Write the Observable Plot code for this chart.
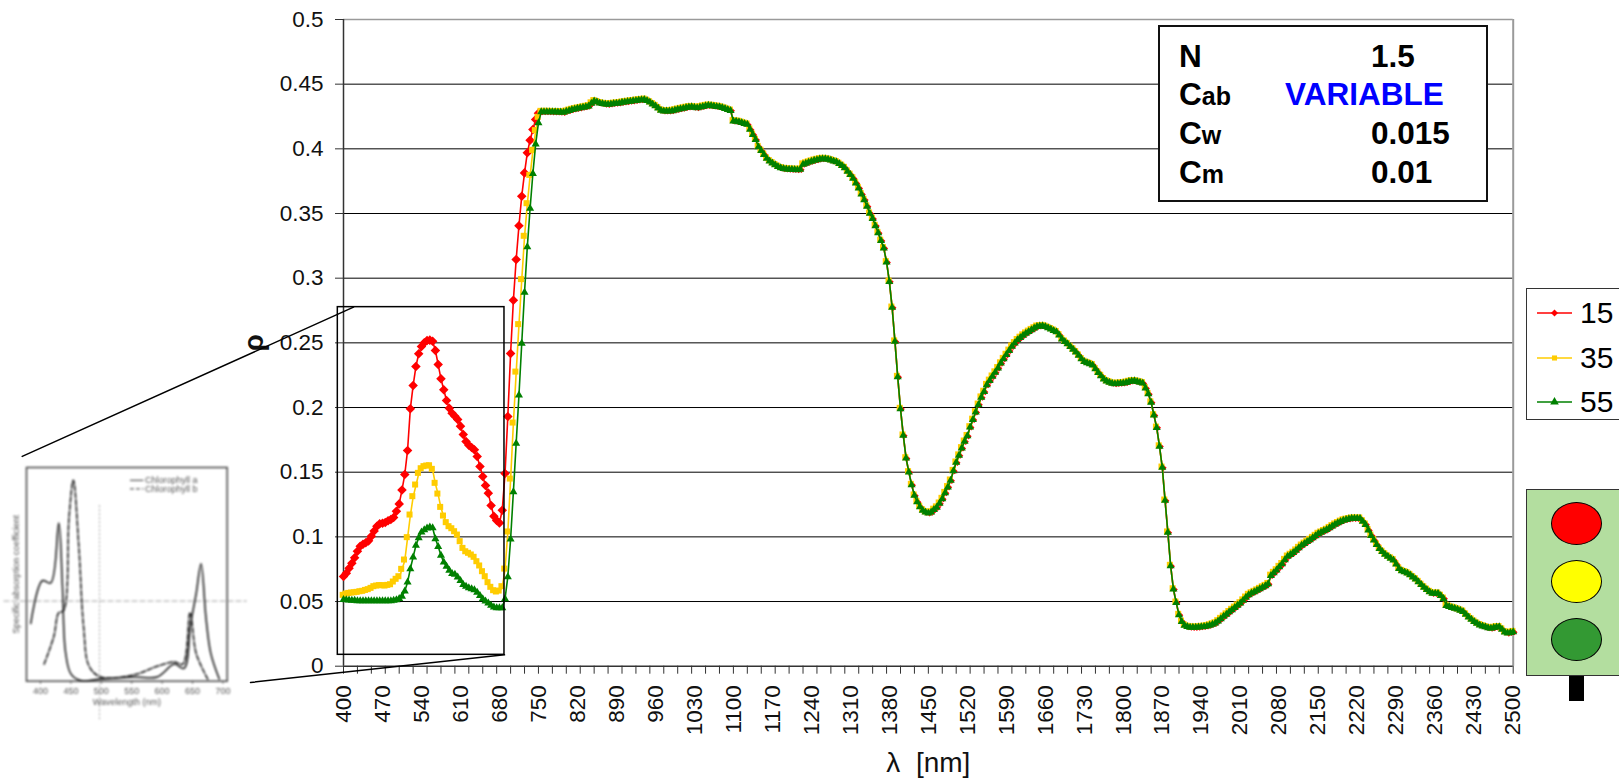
<!DOCTYPE html>
<html><head><meta charset="utf-8">
<script src="https://cdn.jsdelivr.net/npm/d3@7"></script>
<script src="https://cdn.jsdelivr.net/npm/@observablehq/plot@0.6"></script>
<style>
html,body{margin:0;padding:0;background:#fff}
#page{position:relative;width:1619px;height:778px;overflow:hidden;font-family:"Liberation Sans",Arial,sans-serif}
#page>svg,#main svg,#inset svg{display:block;max-width:none;background:transparent}
#main,#inset{position:absolute;left:0}
#main{top:0}
#inset{top:450px;filter:blur(.9px)}
.params{position:absolute;left:1158px;top:25px;width:326px;height:173px;border:2px solid #111;background:#fff;font-weight:bold;font-size:31.5px;color:#000}
.params span{position:absolute;line-height:36px;white-space:nowrap}
.params small{font-size:25px}
.legend{position:absolute;left:1526px;top:288px;width:120px;height:132px;border:1.5px solid #333;background:#fff;box-sizing:border-box}
.legend svg{position:absolute;left:10px;overflow:visible}
.legend span{position:absolute;left:53px;font-size:30px;line-height:34px;color:#000}
.light{position:absolute;left:1526px;top:489px;width:120px;height:187px;background:#b3de9f;border:1.5px solid #333;box-sizing:border-box}
.lamp{position:absolute;left:1550.5px;width:49px;height:41px;border-radius:50%;border:1.5px solid #000}
.stem{position:absolute;left:1569px;top:676px;width:15px;height:25px;background:#000}
</style></head>
<body><div id="page"><div id="main"></div><div id="inset"></div></div>
<script>
// shared wavelength axis (5 nm sampling, 400-2500)
const wavelengths = d3.range(400, 2505, 5);
const xLabelTicks = d3.range(400, 2570, 70).filter(d => d <= 2500);
const xMinorTicks = d3.range(400, 2525, 25);
const yTicks = [0,0.05,0.1,0.15,0.2,0.25,0.3,0.35,0.4,0.45,0.5];
const yTickLabels = ["0","0.05","0.1","0.15","0.2","0.25","0.3","0.35","0.4","0.45","0.5"];

// Cab = 15 : 400-750 nm
const cab15 = [.0693,.0719,.0758,.0796,.0838,.0889,.0928,.0943,.0954,.0969,.1005,.1046,.1082,.1101,.1106,.1111,.1124,.1134,.1149,.1198,.1255,.1363,.1482,.1668,.199,.217,.2317,.2415,.2472,.25,.2518,.2521,.2513,.2441,.2332,.2222,.2137,.2054,.1995,.1956,.1933,.1907,.1856,.1791,.1737,.1709,.1691,.1673,.1621,.1544,.1466,.1397,.1338,.1242,.116,.1126,.1108,.1206,.149,.193,.2418,.283,.3144,.3405,.3634,.3814,.3969,.4067,.4149,.4227,.4275];
// Cab = 35 : 400-750 nm
const cab35 = [.0544,.0554,.0559,.0562,.0564,.0567,.0572,.0575,.0582,.0588,.0598,.0611,.0616,.0619,.0619,.0616,.0621,.0626,.0647,.0668,.0688,.0745,.0817,.099,.1165,.1307,.1397,.1487,.1523,.1539,.1544,.1546,.1518,.141,.1327,.1224,.1157,.1106,.1075,.1059,.1036,.101,.0959,.0907,.0881,.0869,.0856,.0838,.0804,.0771,.0727,.0688,.0642,.0606,.058,.057,.0577,.0611,.0747,.1034,.1443,.1876,.227,.2637,.2985,.332,.3572,.3791,.3984,.4137,.424];
// Cab = 55 : 400-750 nm
const cab55 = [.0515,.0512,.051,.0508,.0508,.0505,.0505,.0505,.0505,.0505,.0505,.0505,.0505,.0505,.0505,.0505,.0505,.0505,.0508,.0513,.0523,.0539,.058,.0649,.0753,.0843,.0933,.0992,.1036,.1054,.1067,.1075,.107,.0985,.0925,.0856,.0804,.0771,.074,.0716,.0709,.0688,.0662,.0631,.0616,.0606,.0598,.059,.057,.0546,.0521,.0503,.0487,.0469,.0456,.0451,.0451,.0451,.0521,.069,.0982,.1348,.1722,.2095,.2495,.2889,.3242,.3539,.3809,.4036,.4201];
// all three series coincide from 755 nm to 2500 nm
const common = [.4286,.4286,.4286,.4286,.4285,.4285,.4284,.4283,.4281,.4289,
.4296,.4302,.4307,.4312,.4316,.4321,.4325,.433,.4352,.4369,
.4362,.4354,.4349,.4345,.4343,.4346,.4349,.4351,.4354,.4358,
.4361,.4364,.4367,.437,.4373,.4376,.4378,.4381,.4372,.436,
.4346,.4332,.4315,.4297,.4291,.4291,.4291,.4294,.4299,.4304,
.4309,.4313,.4318,.4322,.4324,.432,.4317,.4322,.4327,.4332,
.4335,.4333,.433,.4327,.4324,.4318,.4311,.4303,.4296,.4214,
.4212,.4209,.4202,.4195,.4188,.415,.411,.407,.4015,.3985,
.3955,.3925,.3905,.389,.3875,.3862,.3852,.3846,.3843,.3841,
.384,.3839,.3838,.384,.388,.3888,.3896,.3903,.391,.3915,
.392,.3923,.3922,.3918,.3912,.3905,.3898,.3885,.387,.3853,
.3825,.38,.3772,.3735,.3696,.365,.3606,.3555,.35,.346,
.3405,.335,.329,.3232,.3124,.2974,.2773,.2511,.2237,.199,
.1784,.1608,.15,.1402,.132,.127,.1232,.1205,.119,.1183,
.119,.121,.1228,.1258,.1294,.134,.1385,.1436,.151,.1575,
.163,.1686,.1737,.178,.1848,.1906,.1964,.2023,.2078,.2122,
.2175,.2208,.224,.2272,.2305,.2342,.2376,.2408,.244,.2472,
.2498,.2522,.254,.2558,.2573,.2587,.26,.2613,.2626,.2629,
.2631,.2625,.2616,.2606,.2595,.2584,.256,.2528,.251,.2492,
.247,.245,.2428,.2402,.2375,.2354,.2345,.2337,.2328,.2298,
.227,.2245,.222,.2203,.2195,.2186,.2183,.2185,.2187,.2188,
.2193,.2199,.2204,.2205,.22,.2195,.2188,.215,.2105,.204,
.194,.1845,.17,.1536,.1281,.1034,.0776,.0595,.0492,.0397,
.0345,.0315,.0305,.03,.0299,.0299,.0301,.0304,.0306,.031,
.0316,.0324,.0332,.0348,.0366,.0384,.0401,.0419,.0436,.0453,
.047,.0487,.0509,.0531,.0552,.0564,.0575,.0586,.0598,.061,
.0621,.0636,.07,.0722,.0742,.0768,.079,.0822,.0848,.0862,
.0877,.0895,.0915,.0933,.0948,.0963,.0977,.0992,.1008,.1024,
.1034,.1045,.1055,.1069,.1083,.1096,.1107,.1118,.1128,.1133,
.1138,.1142,.1142,.1142,.1142,.112,.1095,.1052,.101,.0975,
.094,.0908,.0885,.0865,.0848,.0834,.082,.0788,.0755,.0737,
.0728,.0719,.0706,.0688,.0672,.0652,.063,.061,.0592,.0575,
.0562,.0562,.0562,.0545,.0523,.0468,.046,.0453,.0447,.044,
.0431,.0422,.04,.038,.0362,.0345,.033,.0318,.031,.0303,
.0296,.0292,.0297,.0302,.0303,.0285,.0263,.0255,.026,.0265];

// inset: chlorophyll specific absorption
const chlANm = [384,403,417,430,436,441,450,466,499,554,592,620,636,647,656,664,672,680,694];
const chlAVal = [27,47,46,74,45,14,3.4,.3,1,2,2,8,6,27,41,55,30,13,1];
const chlBNm = [406,422,430,438,447,454,463,471,480,499,554,592,620,634,646,656,675];
const chlBVal = [8,21,32,33,77,94,63,25,7,2,3,7,9,8,32,13,1];
const insetTicks = [400,450,500,550,600,650,700];

// zoom call-out, in chart units
const boxX = [389.8, 689], boxY = [.0088, .2776];
const calloutTop = [[-176.8,.1622],[418,.2776]];
const calloutBottom = [[233,-.0126],[689,.0088]];

const table = (vals, name) => vals.concat(common).map((v,i) => ({nm: wavelengths[i], v, name}));
const sRed = table(cab15,"15"), sGold = table(cab35,"35"), sGreen = table(cab55,"55");
const xA = {x:"nm", y:"v"};

const chart = Plot.plot({
  width:1619, height:778,
  marginLeft:343, marginRight:106.3, marginTop:19, marginBottom:112.3,
  style:{fontFamily:"'Liberation Sans',Arial,sans-serif", fontSize:"22.5px", color:"#111", background:"transparent", overflow:"visible"},
  x:{domain:[400,2500], label:null, axis:null},
  y:{domain:[0,.5], label:null, axis:null},
  marks:[
    Plot.ruleY(yTicks.slice(1,-1), {stroke:"#000", strokeWidth:1}),
    Plot.ruleY([.5], {stroke:"#9a9a9a", strokeWidth:1.5}),
    Plot.ruleX([2500], {stroke:"#9a9a9a", strokeWidth:2}),
    Plot.ruleX([400], {stroke:"#333", strokeWidth:1.5}),
    Plot.ruleY([0], {stroke:"#333", strokeWidth:1.5}),
    Plot.axisY(yTicks, {anchor:"left", tickSize:8, tickPadding:12, label:null, stroke:"#333",
      tickFormat:d=>yTickLabels[yTicks.indexOf(d)]}),
    Plot.axisX(xMinorTicks, {anchor:"bottom", tickSize:8, tickFormat:()=>"", label:null, stroke:"#333"}),
    Plot.axisX(xLabelTicks, {anchor:"bottom", tickSize:0, tickPadding:19, tickRotate:-90, label:null, tickFormat:d=>String(d)}),
    Plot.axisX({anchor:"bottom", ticks:[], label:"λ\u00a0\u00a0[nm]", labelAnchor:"center", labelArrow:"none", labelOffset:106, fontSize:28}),
    Plot.axisY({anchor:"left", ticks:[], label:"ρ", labelAnchor:"center", labelArrow:"none", labelOffset:100, fontSize:28, fontWeight:"bold"}),
    Plot.line(sRed, {...xA, stroke:"#ff0000", strokeWidth:1.6, curve:"linear"}),
    Plot.dot(sRed.filter(d=>d.nm<=750), {...xA, symbol:"diamond2", r:4.3, fill:"#ff0000", stroke:"none"}),
    Plot.dot(sRed.filter(d=>d.nm>750), {...xA, symbol:"diamond2", r:2.8, fill:"#ff0000", stroke:"none", dx:1.2, dy:.3}),
    Plot.line(sGold, {...xA, stroke:"#ffcc00", strokeWidth:1.6}),
    Plot.dot(sGold, {...xA, symbol:"square", r:3.4, fill:"#ffcc00", stroke:"none", dx:-.8, dy:-1}),
    Plot.line(sGreen, {...xA, stroke:"#008000", strokeWidth:1.6}),
    Plot.dot(sGreen, {...xA, symbol:"triangle", r:3, fill:"#008000", stroke:"none"}),
    Plot.rect([{x1:boxX[0],x2:boxX[1],y1:boxY[0],y2:boxY[1]}], {x1:"x1",x2:"x2",y1:"y1",y2:"y2", fill:"none", stroke:"#000", strokeWidth:1.5}),
    Plot.line(calloutTop, {stroke:"#000", strokeWidth:1.5}),
    Plot.line(calloutBottom, {stroke:"#000", strokeWidth:1.5})
  ]
});
document.getElementById("main").append(chart);

// inset picture
const inset = Plot.plot({
  width:260, height:270,
  marginLeft:26, marginRight:33.3, marginTop:17, marginBottom:39.3,
  style:{fontFamily:"'Liberation Sans',Arial,sans-serif", fontSize:"9px", color:"#555", background:"transparent", overflow:"visible"},
  x:{domain:[377,707], axis:null},
  y:{domain:[0,100], axis:null},
  marks:[
    Plot.frame({stroke:"#333", strokeWidth:1.4}),
    Plot.ruleY([37.5], {x1:340, x2:740, stroke:"#999", strokeWidth:.9, strokeDasharray:"6 2"}),
    Plot.ruleX([497], {y1:-18, y2:83, stroke:"#999", strokeWidth:.9, strokeDasharray:"2 2"}),
    Plot.axisX(insetTicks, {anchor:"bottom", tickSize:3, tickPadding:3, label:null}),
    Plot.axisX({anchor:"bottom", ticks:[], label:"Wavelength (nm)", labelAnchor:"center", labelArrow:"none", labelOffset:24}),
    Plot.axisY({anchor:"left", ticks:[], label:"Specific absorption coefficient", labelAnchor:"center", labelArrow:"none", labelOffset:14}),
    Plot.line(chlANm.map((n,i)=>[n,chlAVal[i]]), {stroke:"#111", strokeWidth:1.5, curve:"catmull-rom"}),
    Plot.line(chlBNm.map((n,i)=>[n,chlBVal[i]]), {stroke:"#111", strokeWidth:1.5, strokeDasharray:"5 2", curve:"catmull-rom"}),
    Plot.text(["Chlorophyll a"], {x:[572], y:[94], textAnchor:"start", fill:"#555"}),
    Plot.text(["Chlorophyll b"], {x:[572], y:[90], textAnchor:"start", fill:"#555"}),
    Plot.ruleY([94], {x1:548, x2:570, stroke:"#333", strokeWidth:1}),
    Plot.ruleY([90], {x1:548, x2:570, stroke:"#333", strokeWidth:1, strokeDasharray:"4 2"})
  ]
});
document.getElementById("inset").append(inset);

// parameter box, legend, traffic light
const page = document.getElementById("page");
const paramRows = [
  ["N","","1.5",212,"#000"],
  ["C","ab","VARIABLE",126,"#0000ff"],
  ["C","w","0.015",212,"#000"],
  ["C","m","0.01",212,"#000"]
];
const params = document.createElement("div");
params.className = "params";
params.innerHTML = paramRows.map((r,i)=>{
  const top = 10.5 + i*38.7;
  return `<span style="left:19px;top:${top}px">${r[0]}<small>${r[1]}</small></span>`+
         `<span style="left:${r[3]-1}px;top:${top}px;color:${r[4]}">${r[2]}</span>`;
}).join("");
page.append(params);

const legendRows = [["15","#ff0000",d3.symbolDiamond2,32],["35","#ffcc00",d3.symbolSquare,26],["55","#008000",d3.symbolTriangle,32]];
const legend = document.createElement("div");
legend.className = "legend";
legend.innerHTML = legendRows.map((r,i)=>{
  const cy = 24 + i*44.5;
  return `<svg width="35" height="12" style="top:${cy-6}px"><line x1="0" x2="35" y1="6" y2="6" stroke="${r[1]}" stroke-width="1.5"/><path transform="translate(17.5,6)" d="${d3.symbol(r[2],r[3])()}" fill="${r[1]}"/></svg>`+
         `<span style="top:${cy-17}px">${r[0]}</span>`;
}).join("");
page.append(legend);

const lampColors = ["#ff0000","#ffff00","#339933"], lampTops = [501.5,560,618];
const light = document.createElement("div"); light.className="light"; page.append(light);
const stem = document.createElement("div"); stem.className="stem"; page.append(stem);
lampColors.forEach((c,i)=>{
  const l = document.createElement("div");
  l.className="lamp"; l.style.background=c; l.style.top=lampTops[i]+"px"; page.append(l);
});
</script></body></html>
